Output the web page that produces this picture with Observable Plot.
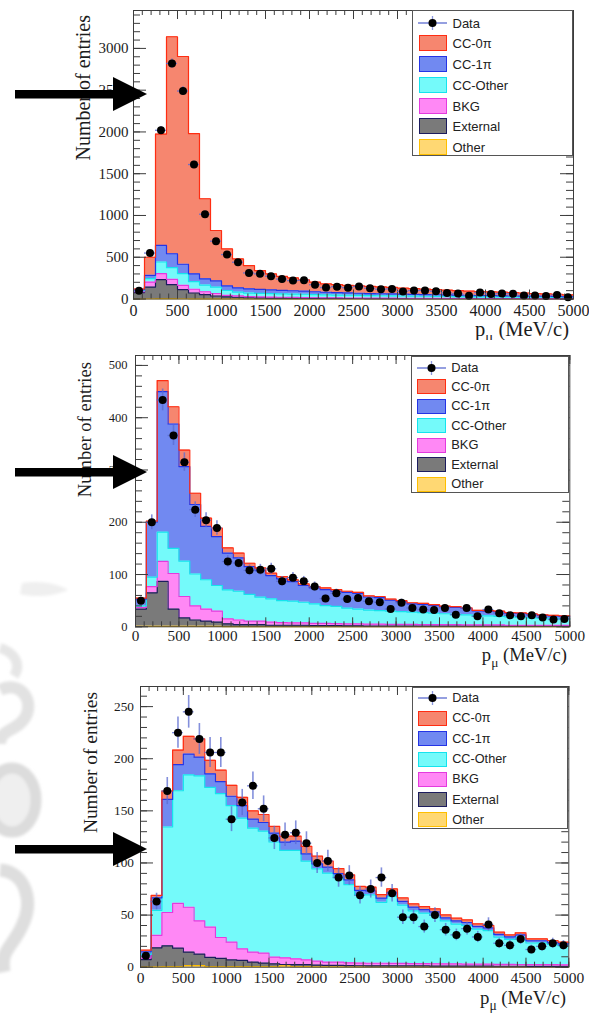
<!DOCTYPE html>
<html>
<head>
<meta charset="utf-8">
<script src="https://cdn.jsdelivr.net/npm/d3@7"></script>
<script src="https://cdn.jsdelivr.net/npm/@observablehq/plot@0.6"></script>
<style>
  html, body { margin: 0; padding: 0; background: #fff; }
  #page { position: relative; width: 589px; height: 1015px; overflow: hidden; background: #fff; }
  .panel { position: absolute; left: 0; width: 589px; overflow: hidden; }
  .legend { position: absolute; box-sizing: border-box; background: #fff; border: 1px solid #555;
            font-family: "Liberation Sans", Arial, sans-serif; color: #222; }
  .legend .sw { position: absolute; box-sizing: border-box; border: 1px solid; }
  .legend .lbl { position: absolute; white-space: nowrap; line-height: 1; transform: translateY(-50%); }
  .legend svg { position: absolute; overflow: visible; }
  #overlay { position: absolute; left: 0; top: 0; pointer-events: none; }
  #wash { position: absolute; left: 0; top: 0; }
</style>
</head>
<body>
<div id="page"></div>
<script>
// Momentum bins (MeV/c): lower edges, 125 MeV/c wide
const binLow = [0,125,250,375,500,625,750,875,1000,1125,1250,1375,1500,1625,1750,1875,
  2000,2125,2250,2375,2500,2625,2750,2875,3000,3125,3250,3375,3500,3625,3750,3875,
  4000,4125,4250,4375,4500,4625,4750,4875];
const binWidth = 125;
const xTicks = [0,500,1000,1500,2000,2500,3000,3500,4000,4500,5000];

// Stacking order, bottom to top
const components = ["Other", "External", "BKG", "CC-Other", "CC-1π", "CC-0π"];
const legendOrder = ["CC-0π", "CC-1π", "CC-Other", "BKG", "External", "Other"];
const fillColors = {"CC-0π": "#f6866f", "CC-1π": "#7189f1", "CC-Other": "#74fafa",
                    "BKG": "#ff88f5", "External": "#7a7a7a", "Other": "#ffd873"};
const lineColors = {"CC-0π": "#ff2d12", "CC-1π": "#2434e6", "CC-Other": "#14e4ee",
                    "BKG": "#e43ade", "External": "#1c1c5e", "Other": "#ffbf00"};

// ---- Selection 1 (CC-0π enriched) ----
const p1YTicks = [0,500,1000,1500,2000,2500,3000];
const p1Data = [100,550,2020,2820,2490,1610,1015,692,532,440,312,301,273,238,220,224,171,137,147,135,
  150,129,117,121,91,101,103,93,73,65,39,77,61,65,63,43,43,35,47,21];
const p1Other = [2,3,4,4,3,2,2,1,1,1,1,1,1,1,1,1,1,1,1,1,1,1,1,1,1,1,1,1,1,1,1,1,1,1,1,1,1,1,1,1];
const p1External = [75,140,227,168,110,70,50,35,25,20,14,12,10,10,8,8,6,6,6,5,5,4,4,4,4,3,3,3,3,3,3,2,2,2,2,2,2,2,2,2];
const p1Bkg = [10,60,72,63,51,45,35,30,18,16,14,12,12,10,10,8,8,6,6,6,5,5,5,5,4,4,4,4,4,3,3,3,3,3,3,3,2,2,2,2];
const p1CcOther = [12,40,140,140,140,90,80,75,58,45,42,42,42,40,40,40,38,36,34,33,32,30,29,28,27,26,25,24,23,22,21,20,20,19,18,17,17,16,15,15];
const p1Cc1pi = [12,40,199,167,112,95,75,75,55,52,51,48,44,42,40,38,34,32,30,28,26,25,24,23,22,21,20,19,18,17,16,15,14,13,12,12,11,10,10,9];
const p1Cc0pi = [9,217,1333,2598,2487,1678,958,604,443,346,278,225,191,167,154,135,114,100,96,89,87,85,82,77,72,69,65,61,57,54,51,49,46,44,41,37,33,30,26,21];

// ---- Selection 2 (CC-1π enriched) ----
const p2YTicks = [0,100,200,300,400,500];
const p2Data = [50,200,434,366,315,224,204,189,125,122,108,109,111,87,94,87,77,54,64,53,
  55,49,47,34,46,36,33,32,36,23,36,20,33,26,22,20,22,18,14,15];
const p2Other = [1,1,1,1,1,1,1,1,0.5,0.5,0.5,0.5,0.5,0.5,0.5,0.5,0.5,0.5,0.5,0.5,0.5,0.5,0.5,0.5,0.5,0.5,0.5,0.5,0.5,0.5,0.5,0.5,0.5,0.5,0.5,0.5,0.5,0.5,0.5,0.5];
const p2External = [33,64,86,33,16,12,9.7,8,5.2,3.5,3.5,3.5,2.5,2.5,2.5,2.5,2,2,2,1.5,1.5,1,1,1,1,1,1,1,1,1,1,1,1,1,1,1,1,1,1,1];
const p2Bkg = [3,12,38,68,41,27,23.3,21,9.3,9,6.8,6.8,6,5,4.6,4.5,4,4,3.5,3.5,3.5,3.5,3.5,3,3,3,2.5,2.5,2.5,2.5,2,2,2,2,1.5,1.5,1.5,1.5,1.5,1.5];
const p2CcOther = [3,18,56,48,67.5,61,56,49,55.6,55,51.2,45.8,44.5,42,41.4,39.5,37.5,34.2,33,30.1,28.5,27,26,25.5,24.5,23.5,23,22,21,20,19.5,18.5,17.5,16.5,16,15,14,13.5,13,12];
const p2Cc1pi = [13,105,269,238,181,133,102,93.6,70.4,64,53,51,44.5,41.7,37.6,32,30.5,30.3,29,30.4,30,25,25,21,19,16,16,15,13,13,12,8.5,9,9,7,7.5,7,5.5,5,5];
const p2Cc0pi = [2,2,21,33,31.5,21.5,16,16.4,10,9,6.6,5.1,4.5,4.3,3.2,3,2.5,3.5,3,2,2,2,2,2,2,2,2,1.6,1.5,1.5,1.3,1,1,1,1,1,1,1,1,1];

// ---- Selection 3 (CC-Other enriched) ----
const p3YTicks = [0,50,100,150,200,250];
const p3Data = [11,63,169,225,245,219,206,206,142,158,174,152,124,127,129,119,100,102,86,88,
  69,75,86,71,48,48,39,50,36,31,37,29,41,23,21,27,17,20,23,21];
const p3Other = [0.3,0.3,0.5,0.5,1.5,1.5,0.5,0.5,0.5,0.5,0.5,0.5,0.5,1.2,0.5,0.5,0.3,0.3,0.3,0.3,0.3,0.3,0.3,0.3,0.3,0.3,0.3,0.3,0.3,0.3,0.3,0.3,0.3,0.3,0.3,0.3,0.3,0.3,0.3,0.3];
const p3External = [7,18.3,20,17.8,13,11,9,8,6.5,6,4.3,3.5,2.7,1.4,2,1.9,1.7,1.5,1.5,1.3,1.1,1,1,1,0.9,0.9,0.9,0.8,0.8,0.8,0.7,0.7,0.7,0.6,0.6,0.6,0.5,0.5,0.5,0.5];
const p3Bkg = [1.5,12,32,43,43,32,29,20,17,11,9.6,9.5,6.4,6.4,5.5,4.6,3.8,3,3,2.6,2.6,2.5,2.5,2.4,2.4,2.3,2.2,2.2,2.1,2,2,1.9,1.9,1.8,1.8,1.7,1.7,1.6,1.6,1.5];
const p3CcOther = [3.5,24,82,108,127,139,134,138,131,125.5,119,117,110.5,103,104,94.7,88.6,85.4,81,75,65.7,65.5,58.4,64.2,56,50.6,48.4,46.5,41.2,38.3,37.1,33.6,32.2,26.2,23.9,26.1,20.7,20.9,19.5,18.1];
const p3Cc1pi = [2.5,12,26.5,25,20,18,13,11.5,9,12,8.6,8.3,8.6,8,9,7,4.8,5.8,4,4.5,4,4,4,3.8,3.6,3.5,3.4,3.2,3,3,2.8,2.7,2.6,2.5,2.4,2.3,2.2,2.1,2,2];
const p3Cc0pi = [1.5,2.3,8,14,17,17.5,13,11,10.5,8,8,7.7,6.4,5.7,4.7,7.3,7.3,5.7,4.8,4.8,3.8,3.5,3.5,3.5,3.3,3.2,3,3,2.8,2.6,2.5,2.4,2.3,2.2,2,2,1.8,1.8,1.7,1.6];

const panels = [
  { top: 0, height: 340, margin: {left: 133, right: 16, top: 10, bottom: 41.5},
    yMax: 3454, yTicks: p1YTicks, yMinorStep: 100, data: p1Data,
    series: [p1Other, p1External, p1Bkg, p1CcOther, p1Cc1pi, p1Cc0pi],
    yFont: 15, yPad: 5, xFont: 16, xPad: 6,
    yTitle: {x: 90, y: 15, size: 20}, xTitle: {x: 569, y: 336, size: 20.5},
    legend: {left: 412, top: 10, width: 161, height: 146, first: 11.7, step: 20.7, font: 13, swH: 16},
    arrowY: 94 },
  { top: 340, height: 330, margin: {left: 135, right: 19.7, top: 15, bottom: 43.7},
    yMax: 519, yTicks: p2YTicks, yMinorStep: 20, data: p2Data,
    series: [p2Other, p2External, p2Bkg, p2CcOther, p2Cc1pi, p2Cc0pi],
    yFont: 12.5, yPad: 8, xFont: 15.2, xPad: 3.5,
    yTitle: {x: 90.5, y: 22, size: 18.6}, xTitle: {x: 567, y: 321, size: 18.6},
    legend: {left: 410.7, top: 16, width: 158.6, height: 136.7, first: 10.5, step: 19.45, font: 12.9, swH: 15},
    arrowY: 472 },
  { top: 670, height: 345, margin: {left: 140, right: 20.7, top: 16, bottom: 48.3},
    yMax: 269.3, yTicks: p3YTicks, yMinorStep: 10, data: p3Data,
    series: [p3Other, p3External, p3Bkg, p3CcOther, p3Cc1pi, p3Cc0pi],
    yFont: 13.3, yPad: 6.5, xFont: 15.5, xPad: 5,
    yTitle: {x: 97, y: 22, size: 19.4}, xTitle: {x: 566, y: 334, size: 18.8},
    legend: {left: 411.7, top: 16.7, width: 156.6, height: 142.3, first: 10.5, step: 20.3, font: 12.7, swH: 15},
    arrowY: 849 }
];

const page = document.getElementById("page");
const xMax = binLow[binLow.length - 1] + binWidth;
const frameColor = "#3c3c3c";
const errColor = "#5b6bd0";

// Faint grey brush-stroke texture along the lower left margin
const wash = d3.select(page).append("svg").attr("id", "wash").attr("width", 589).attr("height", 1015);
wash.append("defs").append("filter").attr("id", "soft").append("feGaussianBlur").attr("stdDeviation", 1.8);
const g = wash.append("g").attr("filter", "url(#soft)").attr("fill", "none");
g.append("path").attr("d", "M22,583 C40,580 58,584 68,590 C55,596 35,598 20,594").attr("fill", "#efefef");
g.append("path").attr("d", "M0,648 C14,652 22,664 14,676").attr("stroke", "#e6e6e6").attr("stroke-width", 10);
g.append("path").attr("d", "M0,690 C20,680 34,700 26,716 C18,732 0,728 0,744").attr("stroke", "#e2e2e2").attr("stroke-width", 12);
g.append("ellipse").attr("cx", 12).attr("cy", 800).attr("rx", 24).attr("ry", 32).attr("stroke", "#dcdcdc").attr("stroke-width", 11).attr("fill", "#efefef");
g.append("path").attr("d", "M0,870 C26,872 34,902 22,926 C12,948 0,950 4,972").attr("stroke", "#dedede").attr("stroke-width", 13);

panels.forEach(cfg => {
  const m = cfg.margin;
  const W = 589 - m.left - m.right;
  const H = cfg.height - m.top - m.bottom;

  // Stack the MC components bin by bin (step areas, closed at the last bin edge)
  const layers = components.map(() => []);
  binLow.forEach((lo, k) => {
    let base = 0;
    cfg.series.forEach((arr, j) => {
      const top = base + arr[k];
      layers[j].push({x: lo, y1: base, y2: top});
      base = top;
    });
  });
  layers.forEach(t => t.push({...t[t.length - 1], x: xMax}));

  const points = cfg.data.map((v, k) => ({
    lo: binLow[k], hi: binLow[k] + binWidth, mid: binLow[k] + binWidth / 2,
    v, lo_e: v - Math.sqrt(v), hi_e: v + Math.sqrt(v)
  }));

  const yMinor = d3.range(0, cfg.yMax, cfg.yMinorStep);
  const xMinor = d3.range(0, xMax + 1, 100);

  const marks = [];
  components.forEach((c, j) => {
    marks.push(Plot.areaY(layers[j], {x: "x", y1: "y1", y2: "y2", curve: "step-after", fill: fillColors[c]}));
  });
  components.forEach((c, j) => {
    marks.push(Plot.line(layers[j], {x: "x", y: "y2", curve: "step-after", stroke: lineColors[c], strokeWidth: 1.2}));
  });
  const tk = {stroke: frameColor, strokeWidth: 1};
  marks.push(
    Plot.tickY(yMinor, {y: d => d, insetRight: W - 7, ...tk}),
    Plot.tickY(cfg.yTicks, {y: d => d, insetRight: W - 13, ...tk}),
    Plot.tickY(yMinor, {y: d => d, insetLeft: W - 7, ...tk}),
    Plot.tickY(cfg.yTicks, {y: d => d, insetLeft: W - 13, ...tk}),
    Plot.tickX(xMinor, {x: d => d, insetTop: H - 5, ...tk}),
    Plot.tickX(xTicks, {x: d => d, insetTop: H - 9, ...tk}),
    Plot.tickX(xMinor, {x: d => d, insetBottom: H - 5, ...tk}),
    Plot.tickX(xTicks, {x: d => d, insetBottom: H - 9, ...tk}),
    Plot.ruleY(points, {x1: "lo", x2: "hi", y: "v", stroke: errColor, strokeWidth: 1.3, strokeOpacity: 0.85}),
    Plot.ruleX(points, {x: "mid", y1: "lo_e", y2: "hi_e", stroke: errColor, strokeWidth: 1.6, strokeOpacity: 0.75}),
    Plot.dot(points, {x: "mid", y: "v", r: 4, fill: "#000", stroke: "none"}),
    Plot.frame({stroke: frameColor, strokeWidth: 1}),
    Plot.axisY(cfg.yTicks, {tickSize: 0, tickPadding: cfg.yPad, fontSize: cfg.yFont, tickFormat: d => `${d}`, label: null}),
    Plot.axisX(xTicks, {tickSize: 0, tickPadding: cfg.xPad, fontSize: cfg.xFont, tickFormat: d => `${d}`, label: null})
  );

  const svg = Plot.plot({
    width: 589, height: cfg.height,
    marginLeft: m.left, marginRight: m.right, marginTop: m.top, marginBottom: m.bottom,
    x: {domain: [0, xMax]},
    y: {domain: [0, cfg.yMax]},
    style: {background: "transparent", fontFamily: "'Liberation Serif', 'Times New Roman', serif", color: "#1c1c1c"},
    marks
  });

  const s = d3.select(svg);
  s.append("text")
    .attr("transform", `translate(${cfg.yTitle.x},${cfg.yTitle.y}) rotate(-90)`)
    .attr("text-anchor", "end").attr("fill", "#1c1c1c")
    .attr("font-size", cfg.yTitle.size)
    .text("Number of entries");
  const xt = s.append("text")
    .attr("x", cfg.xTitle.x).attr("y", cfg.xTitle.y)
    .attr("text-anchor", "end").attr("fill", "#1c1c1c")
    .attr("font-size", cfg.xTitle.size);
  xt.append("tspan").text("p");
  xt.append("tspan").attr("dy", cfg.xTitle.size * 0.3).attr("font-size", cfg.xTitle.size * 0.72).text("μ");
  xt.append("tspan").attr("dy", -cfg.xTitle.size * 0.3).text(" (MeV/c)");

  const div = document.createElement("div");
  div.className = "panel";
  div.style.top = cfg.top + "px";
  div.style.height = cfg.height + "px";
  div.appendChild(svg);

  // Legend box
  const L = cfg.legend;
  const leg = document.createElement("div");
  leg.className = "legend";
  Object.assign(leg.style, {left: L.left + "px", top: L.top + "px", width: L.width + "px", height: L.height + "px", fontSize: L.font + "px"});
  const entries = ["Data", ...legendOrder];
  entries.forEach((name, i) => {
    const cy = L.first + i * L.step;
    if (name === "Data") {
      const ns = "http://www.w3.org/2000/svg";
      const sv = document.createElementNS(ns, "svg");
      sv.setAttribute("width", 30); sv.setAttribute("height", 16);
      sv.style.left = "5px"; sv.style.top = (cy - 8) + "px";
      sv.innerHTML = `<line x1="0" x2="29" y1="8" y2="8" stroke="${errColor}" stroke-width="1.3"/>` +
        `<line x1="14.5" x2="14.5" y1="1" y2="15" stroke="${errColor}" stroke-width="1.3" stroke-opacity="0.7"/>` +
        `<circle cx="14.5" cy="8" r="4" fill="#000"/>`;
      leg.appendChild(sv);
    } else {
      const sw = document.createElement("div");
      sw.className = "sw";
      Object.assign(sw.style, {left: "5.5px", top: (cy - L.swH / 2) + "px", width: "28.5px", height: L.swH + "px",
        background: fillColors[name], borderColor: lineColors[name]});
      leg.appendChild(sw);
    }
    const lbl = document.createElement("div");
    lbl.className = "lbl";
    lbl.style.left = "39.5px";
    lbl.style.top = cy + "px";
    lbl.textContent = name;
    leg.appendChild(lbl);
  });
  div.appendChild(leg);
  page.appendChild(div);
});

// Pointer arrows along the left edge
const ov = d3.select(page).append("svg").attr("id", "overlay").attr("width", 589).attr("height", 1015);
panels.forEach(cfg => {
  const y = cfg.arrowY;
  ov.append("rect").attr("x", 15).attr("y", y - 4).attr("width", 100).attr("height", 8.5).attr("fill", "#000");
  ov.append("path").attr("d", `M113,${y - 17}L147,${y}L113,${y + 17}Z`).attr("fill", "#000");
});
</script>
</body>
</html>
